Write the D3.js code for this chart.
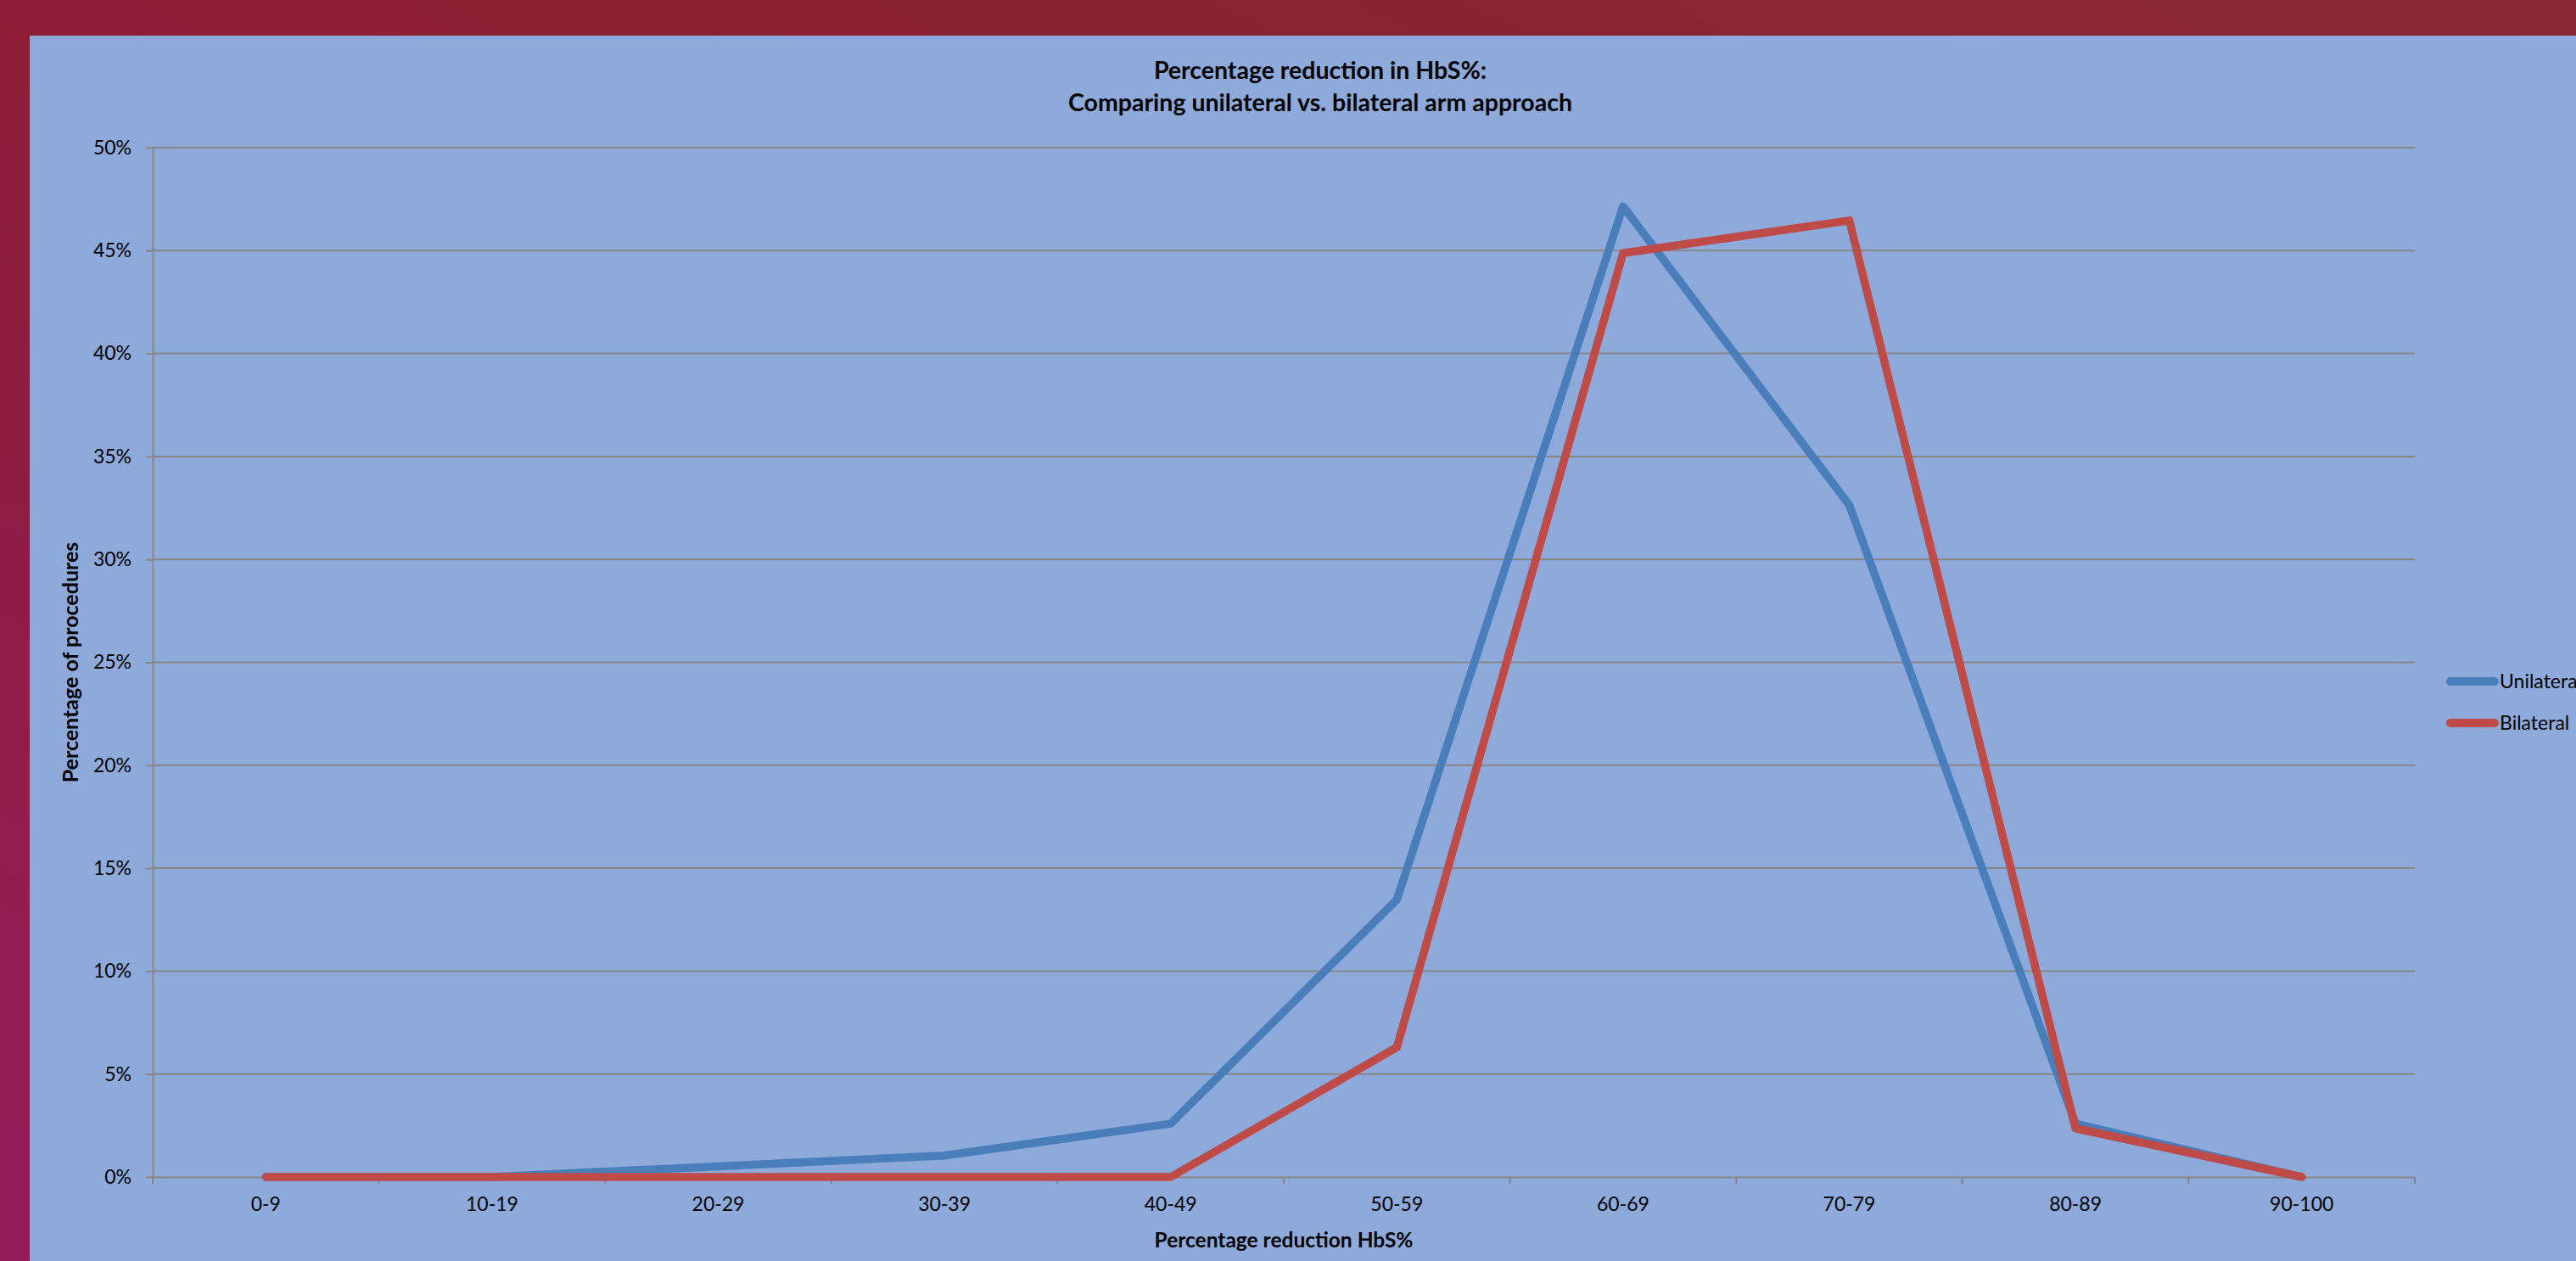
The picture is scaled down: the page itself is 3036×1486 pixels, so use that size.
<!DOCTYPE html>
<html>
<head>
<meta charset="utf-8">
<script src="https://cdn.jsdelivr.net/npm/d3@7"></script>
<style>
  html, body { margin: 0; padding: 0; }
  body { width: 3036px; height: 1486px; overflow: hidden; }
  svg { display: block; }
</style>
</head>
<body>
<svg id="chart" width="3036" height="1486"></svg>
<script>
// Reduction bands (x categories)
const categories = ["0-9", "10-19", "20-29", "30-39", "40-49", "50-59", "60-69", "70-79", "80-89", "90-100"];
// Percentage of procedures per band
const unilateral = [0, 0, 0.52, 1.04, 2.59, 13.47, 47.15, 32.64, 2.59, 0];
const bilateral  = [0, 0, 0, 0, 0, 6.30, 44.88, 46.46, 2.36, 0];
const seriesNames = ["Unilateral", "Bilateral"];
const yTicks = [0, 5, 10, 15, 20, 25, 30, 35, 40, 45, 50];

const W = 3036, H = 1486;
const svg = d3.select("#chart");

// Outer frame with a dark-red to magenta gradient
const defs = svg.append("defs");
const grad = defs.append("linearGradient").attr("id", "frame")
  .attr("x1", "1").attr("y1", "0").attr("x2", "0").attr("y2", "1");
grad.append("stop").attr("offset", "0").attr("stop-color", "#872834");
grad.append("stop").attr("offset", "0.45").attr("stop-color", "#8c1f33");
grad.append("stop").attr("offset", "1").attr("stop-color", "#941a58");
svg.append("rect").attr("width", W).attr("height", H).attr("fill", "url(#frame)");

// Chart panel
svg.append("rect").attr("x", 35).attr("y", 42).attr("width", W - 35).attr("height", H - 42)
  .attr("fill", "#8eaadb");

const plot = { left: 180, right: 2846, top: 174, bottom: 1387 };
const font = "Lato, 'Open Sans', sans-serif";

const x = d3.scaleBand().domain(categories).range([plot.left, plot.right]);
const y = d3.scaleLinear().domain([0, 50]).range([plot.bottom, plot.top]);
const xc = d => x(d) + x.bandwidth() / 2;

// Horizontal gridlines
svg.append("g").selectAll("line").data(yTicks.filter(t => t > 0)).join("line")
  .attr("x1", plot.left).attr("x2", plot.right)
  .attr("y1", d => y(d)).attr("y2", d => y(d))
  .attr("stroke", "#868686").attr("stroke-width", 2);

// Y axis
const yAxis = svg.append("g").attr("transform", `translate(${plot.left},0)`)
  .call(d3.axisLeft(y).tickValues(yTicks).tickFormat(d => d + "%").tickSizeInner(8).tickSizeOuter(0).tickPadding(17));
yAxis.select(".domain").attr("stroke", "#868686").attr("stroke-width", 2);
yAxis.selectAll(".tick line").attr("stroke", "#868686").attr("stroke-width", 2);
yAxis.selectAll(".tick text").attr("font-family", font).attr("font-size", 23).attr("fill", "#000");

// X axis with ticks at band boundaries
const xAxis = svg.append("g").attr("transform", `translate(0,${plot.bottom})`)
  .call(d3.axisBottom(x).tickSize(0).tickPadding(24));
xAxis.select(".domain").attr("stroke", "#868686").attr("stroke-width", 2);
xAxis.selectAll(".tick text").attr("font-family", font).attr("font-size", 23).attr("fill", "#000");
const bounds = categories.map(c => x(c)).concat([plot.right]);
svg.append("g").selectAll("line").data(bounds).join("line")
  .attr("x1", d => d).attr("x2", d => d)
  .attr("y1", plot.bottom).attr("y2", plot.bottom + 8)
  .attr("stroke", "#868686").attr("stroke-width", 2);

// Series lines
const line = d3.line().x((d, i) => xc(categories[i])).y(d => y(d));
const colors = ["#4a7ebb", "#be4b48"];
[unilateral, bilateral].forEach((vals, k) => {
  svg.append("path").datum(vals).attr("d", line)
    .attr("fill", "none").attr("stroke", colors[k]).attr("stroke-width", 9.5)
    .attr("stroke-linejoin", "round").attr("stroke-linecap", "round");
});

// Title
const title = svg.append("text").attr("x", 1556).attr("text-anchor", "middle")
  .attr("font-family", font).attr("font-weight", "bold").attr("font-size", 28.5).attr("fill", "#000");
title.append("tspan").attr("x", 1556).attr("y", 93).text("Percentage reduction in HbS%:");
title.append("tspan").attr("x", 1556).attr("y", 131).text("Comparing unilateral vs. bilateral arm approach");

// Axis titles
svg.append("text").attr("x", (plot.left + plot.right) / 2).attr("y", 1470)
  .attr("text-anchor", "middle").attr("font-family", font).attr("font-weight", "bold")
  .attr("font-size", 24.5).attr("fill", "#000").text("Percentage reduction HbS%");
svg.append("text").attr("transform", `translate(92,${(plot.top + plot.bottom) / 2}) rotate(-90)`)
  .attr("text-anchor", "middle").attr("font-family", font).attr("font-weight", "bold")
  .attr("font-size", 25).attr("fill", "#000").text("Percentage of procedures");

// Legend
const legend = svg.append("g");
seriesNames.forEach((name, k) => {
  const ly = 803 + k * 49;
  legend.append("line").attr("x1", 2888).attr("x2", 2940).attr("y1", ly).attr("y2", ly)
    .attr("stroke", colors[k]).attr("stroke-width", 10).attr("stroke-linecap", "round");
  legend.append("text").attr("x", 2946).attr("y", ly).attr("dy", "0.35em")
    .attr("font-family", font).attr("font-size", 23).attr("fill", "#000").text(name);
});
</script>
</body>
</html>
